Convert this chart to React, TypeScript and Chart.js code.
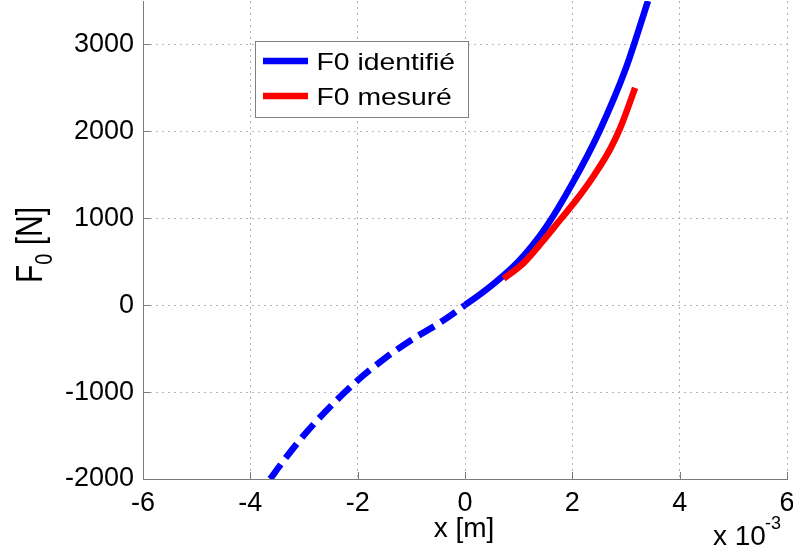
import React, { useEffect, useRef } from "react";
import { Chart, registerables } from "chart.js";

Chart.register(...registerables);

const FONT = "'Liberation Sans', Arial, Helvetica, sans-serif";

// x values are in units of 10^-3 m (axis multiplier "x 10^-3")
const identX = [-3.63, -3.4, -3.0, -2.5, -2.0, -1.5, -1.0, -0.5, 0, 0.5, 1.0, 1.5, 2.0, 2.5, 3.0, 3.41];
const identY = [-2000, -1805, -1495, -1160, -865, -615, -400, -215, 0, 230, 505, 890, 1400, 1995, 2730, 3500];

const mesX = [0.72, 1.1, 1.46, 1.77, 2.08, 2.4, 2.7, 2.9, 3.17];
const mesY = [305, 490, 745, 980, 1215, 1490, 1790, 2050, 2500];

const xTicks = [-6, -4, -2, 0, 2, 4, 6];
const yTicks = [-2000, -1000, 0, 1000, 2000, 3000];

const seriesLabels = ["F0 identifié", "F0 mesuré"];
const seriesColors = ["#0000ff", "#ff0000"];

const AXIS_COLOR = "#7a7a7a";
const GRID_COLOR = "#b4b4b4";

const overlayPlugin = {
  id: "overlay",
  afterDraw(chart: any) {
    const ctx = chart.ctx as CanvasRenderingContext2D;
    const { chartArea } = chart;
    const xs = chart.scales.x;
    const ys = chart.scales.y;
    ctx.save();
    // inward tick marks
    ctx.strokeStyle = AXIS_COLOR;
    ctx.lineWidth = 1;
    ctx.beginPath();
    xTicks.forEach((v) => {
      const px = Math.round(xs.getPixelForValue(v)) + 0.5;
      ctx.moveTo(px, chartArea.bottom);
      ctx.lineTo(px, chartArea.bottom - 7);
    });
    yTicks.forEach((v) => {
      const py = Math.round(ys.getPixelForValue(v)) + 0.5;
      ctx.moveTo(chartArea.left, py);
      ctx.lineTo(chartArea.left + 7, py);
    });
    ctx.stroke();

    // legend
    const lx = 255.5, ly = 41.5, lw = 213, lh = 76;
    ctx.fillStyle = "#ffffff";
    ctx.fillRect(lx, ly, lw, lh);
    ctx.strokeStyle = "#808080";
    ctx.lineWidth = 1;
    ctx.strokeRect(lx, ly, lw, lh);
    const rows = [61, 96];
    chart.data.datasets.forEach((ds: any, i: number) => {
      ctx.strokeStyle = ds.borderColor;
      ctx.lineWidth = 6.5;
      ctx.setLineDash([]);
      ctx.beginPath();
      ctx.moveTo(263, rows[i]);
      ctx.lineTo(308, rows[i]);
      ctx.stroke();
      ctx.save();
      ctx.translate(316.5, rows[i] + 9);
      ctx.scale(1.18, 1);
      ctx.fillStyle = "#000";
      ctx.font = `24px ${FONT}`;
      ctx.textAlign = "left";
      ctx.textBaseline = "alphabetic";
      ctx.fillText(ds.label, 0, 0);
      ctx.restore();
    });

    // x axis title
    ctx.fillStyle = "#000";
    ctx.font = `28px ${FONT}`;
    ctx.textAlign = "center";
    ctx.textBaseline = "alphabetic";
    ctx.fillText("x [m]", 464, 537);

    // multiplier
    ctx.textAlign = "left";
    ctx.font = `28px ${FONT}`;
    ctx.fillText("x 10", 713, 545);
    ctx.font = `18px ${FONT}`;
    ctx.fillText("-3", 765, 529);

    // y axis title (rotated, with subscript)
    ctx.save();
    ctx.translate(42, 283);
    ctx.scale(1.2, 1);
    ctx.rotate(-Math.PI / 2);
    ctx.textAlign = "left";
    ctx.font = `30px ${FONT}`;
    ctx.fillText("F", 0, 0);
    let w = ctx.measureText("F").width;
    ctx.font = `20px ${FONT}`;
    ctx.fillText("0", w, 8);
    w += ctx.measureText("0").width;
    ctx.font = `30px ${FONT}`;
    ctx.fillText(" [N]", w, 0);
    ctx.restore();

    ctx.restore();
  },
};

export default function App() {
  const canvasRef = useRef<HTMLCanvasElement | null>(null);

  useEffect(() => {
    const canvas = canvasRef.current;
    if (!canvas) return;
    const chart = new Chart(canvas, {
      type: "line",
      data: {
        datasets: [
          {
            label: seriesLabels[0],
            data: identX.map((x, i) => ({ x, y: identY[i] })),
            borderColor: seriesColors[0],
            backgroundColor: seriesColors[0],
            borderWidth: 6.5,
            pointRadius: 0,
            order: 1,
            cubicInterpolationMode: "monotone",
            borderCapStyle: "butt",
            segment: {
              borderDash: (c: any) => (c.p0.parsed.x < 0 ? [18, 8] : []),
            },
          },
          {
            label: seriesLabels[1],
            data: mesX.map((x, i) => ({ x, y: mesY[i] })),
            borderColor: seriesColors[1],
            backgroundColor: seriesColors[1],
            borderWidth: 6.5,
            pointRadius: 0,
            order: 0,
            cubicInterpolationMode: "monotone",
            borderCapStyle: "butt",
          },
        ],
      },
      options: {
        animation: false,
        responsive: false,
        devicePixelRatio: 1,
        layout: { padding: { top: 1, right: 6, left: 0, bottom: 0 } },
        plugins: {
          legend: { display: false },
          tooltip: { enabled: false },
        },
        scales: {
          x: {
            type: "linear",
            min: -6,
            max: 6,
            afterBuildTicks: (s: any) => {
              s.ticks = xTicks.map((v) => ({ value: v }));
            },
            afterFit: (s: any) => {
              s.height = 74;
              s.paddingLeft = 0;
              s.paddingRight = 0;
            },
            ticks: {
              font: { family: FONT, size: 27 },
              color: "#000",
              padding: 8,
              maxRotation: 0,
              autoSkip: false,
              callback: (v: any) => String(v),
            },
            grid: {
              color: GRID_COLOR,
              lineWidth: 1,
              drawTicks: false,
            },
            border: { display: true, color: AXIS_COLOR, width: 1, dash: [2, 4] },
          },
          y: {
            type: "linear",
            min: -2000,
            max: 3500,
            afterBuildTicks: (s: any) => {
              s.ticks = yTicks.map((v) => ({ value: v }));
            },
            afterFit: (s: any) => {
              s.width = 143;
              s.paddingTop = 0;
              s.paddingBottom = 0;
            },
            ticks: {
              font: { family: FONT, size: 27 },
              color: "#000",
              padding: 9,
              autoSkip: false,
              callback: (v: any) => String(v),
            },
            grid: {
              color: GRID_COLOR,
              lineWidth: 1,
              drawTicks: false,
            },
            border: { display: true, color: AXIS_COLOR, width: 1, dash: [2, 4] },
          },
        },
      } as any,
      plugins: [overlayPlugin],
    });
    return () => chart.destroy();
  }, []);

  return (
    <div style={{ position: "fixed", left: 0, top: 0, width: 793, height: 553, background: "#fff" }}>
      <canvas ref={canvasRef} width={793} height={553} style={{ display: "block" }} />
    </div>
  );
}
